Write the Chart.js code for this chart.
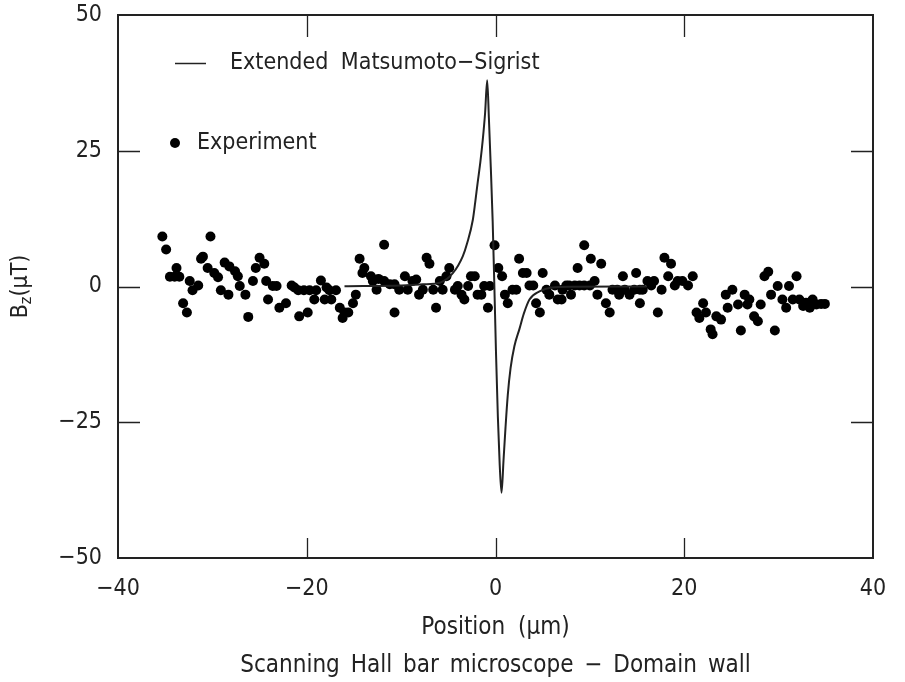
<!DOCTYPE html>
<html>
<head>
<meta charset="utf-8">
<script src="https://cdn.jsdelivr.net/npm/chart.js@4"></script>
<style>
  html, body { margin: 0; background: #fff; }
  #wrap { width: 905px; height: 682px; }
</style>
</head>
<body>
<div id="wrap"><canvas id="c"></canvas></div>
<script>
// ── Experiment points (position µm, Bz µT) ──
const expX = [-35.3,-34.9,-34.5,-34.0,-33.8,-33.5,-33.1,-32.7,-32.4,-32.1,-31.5,-31.2,-31.0,-30.5,-30.2,-29.8,-29.4,-29.1,-28.7,-28.3,
  -28.2,-27.6,-27.3,-27.1,-26.5,-26.2,-25.7,-25.4,-25.0,-24.5,-24.3,-24.1,-23.6,-23.2,-22.9,-22.2,-21.6,-21.3,-20.9,-20.8,
  -20.3,-19.9,-19.7,-19.2,-19.0,-18.5,-18.1,-17.9,-17.6,-17.4,-16.9,-16.5,-16.2,-16.0,-15.6,-15.1,-14.8,-14.4,-14.1,-13.9,
  -13.2,-13.0,-12.6,-12.4,-11.8,-11.8,-11.2,-10.7,-10.7,-10.2,-9.6,-9.3,-8.8,-8.4,-8.1,-7.7,-7.3,-7.0,-6.6,-6.3,
  -5.9,-5.6,-5.2,-4.9,-4.3,-4.0,-3.6,-3.3,-2.9,-2.6,-2.2,-1.9,-1.5,-1.2,-0.8,-0.6,-0.1,0.3,0.7,1.0,
  1.3,1.8,2.2,2.5,2.9,3.3,3.6,4.0,4.3,4.7,5.0,5.4,5.7,6.3,6.6,7.0,7.1,7.5,7.8,8.0,
  8.4,8.7,8.9,9.4,9.4,10.0,10.1,10.5,10.8,11.2,11.7,12.1,12.4,12.9,13.1,13.5,13.7,14.2,14.7,14.9,
  15.3,15.3,15.6,16.1,16.5,16.8,17.2,17.6,17.9,18.3,18.6,19.0,19.3,19.8,20.4,20.9,21.3,21.6,22.0,22.3,
  22.8,23.0,23.4,23.9,24.4,24.6,25.1,25.7,26.0,26.4,26.7,26.9,27.4,27.8,28.1,28.5,28.9,29.2,29.6,29.9,
  30.4,30.8,31.1,31.5,31.9,32.2,32.6,32.9,33.3,33.6,34.0,34.5,34.9];
const expY = [9.2,6.8,1.8,1.8,3.4,1.8,-3.1,-4.8,1.0,-0.7,0.2,5.1,5.5,3.4,9.2,2.5,1.7,-0.7,4.4,-1.5,
  3.7,2.8,1.9,0.1,-1.5,-5.6,1.0,3.4,5.3,4.2,1.0,-2.4,0.1,0.1,-3.9,-3.1,0.2,-0.2,-0.7,-5.5,
  -0.7,-4.8,-0.7,-2.4,-0.7,1.1,-2.4,-0.2,-0.7,-2.4,-0.7,-3.9,-5.8,-4.8,-4.8,-3.1,-1.5,5.1,2.5,3.4,
  1.9,1.0,-0.6,1.4,7.7,1.0,0.4,0.4,-4.8,-0.6,1.9,-0.6,1.0,1.3,-1.5,-0.6,5.3,4.2,-0.6,-3.9,
  1.0,-0.6,1.9,3.4,-0.6,0.1,-1.5,-2.4,0.1,1.9,1.9,-1.5,-1.5,0.1,-3.9,0.1,7.6,3.4,1.9,-1.5,
  -3.1,-0.6,-0.6,5.1,2.5,2.5,0.2,0.2,-3.1,-4.8,2.5,-0.6,-1.5,0.2,-2.4,-2.4,-0.6,0.2,0.2,-1.5,
  0.2,3.4,0.2,0.2,7.6,0.2,5.1,1.0,-1.5,4.2,-3.1,-4.8,-0.6,-0.6,-1.5,1.9,-0.6,-1.5,-0.6,2.5,
  -0.6,-3.1,-0.6,1.0,0.2,1.0,-4.8,-0.6,5.3,1.9,4.2,0.2,1.0,1.0,0.2,1.9,-4.8,-5.8,-3.1,-4.8,
  -7.9,-8.8,-5.5,-6.1,-1.5,-3.9,-0.6,-3.3,-8.1,-1.5,-3.3,-2.4,-5.5,-6.4,-3.3,1.9,2.7,-1.5,-8.1,0.1,
  -2.4,-3.9,0.1,-2.4,1.9,-2.4,-3.6,-3.0,-3.9,-2.4,-3.3,-3.2,-3.2];

// ── Extended Matsumoto-Sigrist curve ──
const fitX = [-16,-10,-7.7,-5.9,-4.5,-3.46,-3.0,-2.4,-2.15,-1.9,-1.6,-1.35,-1.1,-0.88,
  -0.7,-0.5,-0.3,-0.12,0.05,0.25,0.45,0.64,
  0.85,1.06,1.3,1.6,2.0,2.54,3.0,3.6,4.66,6.0,8.0,16];
const fitY = [0.05,0.2,0.4,0.7,2.5,5.6,8.0,12.3,15.5,19,23,27,32,38,
  31,22,12,0,-12,-24,-33,-38,
  -32,-26,-20,-15,-11,-7.8,-5.0,-2.4,-0.9,-0.2,-0.05,0];

const xTicks = [-40, -20, 0, 20, 40];
const yTicks = [-50, -25, 0, 25, 50];

const FONT = '"Liberation Sans Narrow", "DejaVu Sans Condensed", "Liberation Sans", sans-serif';
const INK = '#222';
const fmt = v => (v < 0 ? '\u2212' + Math.abs(v) : String(v));

// frame, inward ticks, legend and titles
const decor = {
  id: 'decor',
  afterDraw(chart) {
    const { ctx, chartArea: a, scales: { x, y } } = chart;
    ctx.save();
    ctx.strokeStyle = INK;
    ctx.lineWidth = 2;
    ctx.strokeRect(a.left, a.top, a.right - a.left, a.bottom - a.top);

    ctx.lineWidth = 1.3;
    ctx.beginPath();
    xTicks.slice(1, -1).forEach(v => {
      const px = Math.round(x.getPixelForValue(v)) + 0.5;
      ctx.moveTo(px, a.bottom); ctx.lineTo(px, a.bottom - 20);
      ctx.moveTo(px, a.top); ctx.lineTo(px, a.top + 22);
    });
    yTicks.slice(1, -1).forEach(v => {
      const py = Math.round(y.getPixelForValue(v)) + 0.5;
      ctx.moveTo(a.left, py); ctx.lineTo(a.left + 22, py);
      ctx.moveTo(a.right, py); ctx.lineTo(a.right - 22, py);
    });
    ctx.stroke();

    // legend
    ctx.fillStyle = INK;
    ctx.font = '23px ' + FONT;
    ctx.textBaseline = 'middle';
    ctx.textAlign = 'left';
    ctx.wordSpacing = '6px';
    ctx.lineWidth = 1.5;
    ctx.beginPath();
    ctx.moveTo(a.left + 57, 63.5); ctx.lineTo(a.left + 88, 63.5);
    ctx.stroke();
    ctx.fillText('Extended Matsumoto\u2212Sigrist', a.left + 112, 63);
    ctx.fillStyle = '#000';
    ctx.beginPath();
    ctx.arc(a.left + 57, 143, 5, 0, Math.PI * 2);
    ctx.fill();
    ctx.fillStyle = INK;
    ctx.fillText('Experiment', a.left + 79, 143);

    // x title and caption
    ctx.textAlign = 'center';
    const cx = (a.left + a.right) / 2;
    ctx.font = '24px ' + FONT;
    ctx.fillText('Position (\u03bcm)', cx, 628);
    ctx.wordSpacing = '4px';
    ctx.fillText('Scanning Hall bar microscope \u2212 Domain wall', cx, 666);
    ctx.wordSpacing = '0px';

    // y title B_z(µT), rotated
    ctx.translate(21, (a.top + a.bottom) / 2);
    ctx.rotate(-Math.PI / 2);
    ctx.textAlign = 'left';
    const big = '23px ' + FONT, small = '16px ' + FONT;
    ctx.font = big; const wB = ctx.measureText('B').width;
    const wT = ctx.measureText('(\u03bcT)').width;
    ctx.font = small; const wz = ctx.measureText('z').width;
    let s = -(wB + wz + wT) / 2;
    ctx.font = big; ctx.fillText('B', s, 0); s += wB;
    ctx.font = small; ctx.fillText('z', s, 6); s += wz;
    ctx.font = big; ctx.fillText('(\u03bcT)', s, 0);
    ctx.restore();
  }
};

new Chart(document.getElementById('c'), {
  data: {
    datasets: [
      {
        type: 'line',
        label: 'Extended Matsumoto-Sigrist',
        data: fitX.map((v, i) => ({ x: v, y: fitY[i] })),
        borderColor: INK,
        borderWidth: 2,
        pointRadius: 0,
        fill: false,
        cubicInterpolationMode: 'monotone'
      },
      {
        type: 'scatter',
        label: 'Experiment',
        data: expX.map((v, i) => ({ x: v, y: expY[i] })),
        backgroundColor: '#000',
        borderWidth: 0,
        pointRadius: 5
      }
    ]
  },
  options: {
    responsive: true,
    maintainAspectRatio: false,
    animation: false,
    devicePixelRatio: 1,
    layout: { padding: { top: 0, right: 32, left: 0, bottom: 0 } },
    plugins: { legend: { display: false }, tooltip: { enabled: false } },
    scales: {
      x: {
        type: 'linear', min: -40, max: 40,
        afterBuildTicks: s => { s.ticks = xTicks.map(v => ({ value: v })); },
        afterFit: s => { s.height = 124; },
        grid: { display: false, drawTicks: false },
        border: { display: false },
        ticks: { color: INK, padding: 17, font: { family: FONT, size: 23 }, callback: fmt, maxRotation: 0 }
      },
      y: {
        type: 'linear', min: -50, max: 50,
        afterBuildTicks: s => { s.ticks = yTicks.map(v => ({ value: v })); },
        afterFit: s => { s.width = 118; s.paddingTop = 15; s.paddingBottom = 0; },
        grid: { display: false, drawTicks: false },
        border: { display: false },
        ticks: { color: INK, padding: 16, font: { family: FONT, size: 23 }, callback: fmt }
      }
    }
  },
  plugins: [decor]
});
</script>
</body>
</html>
